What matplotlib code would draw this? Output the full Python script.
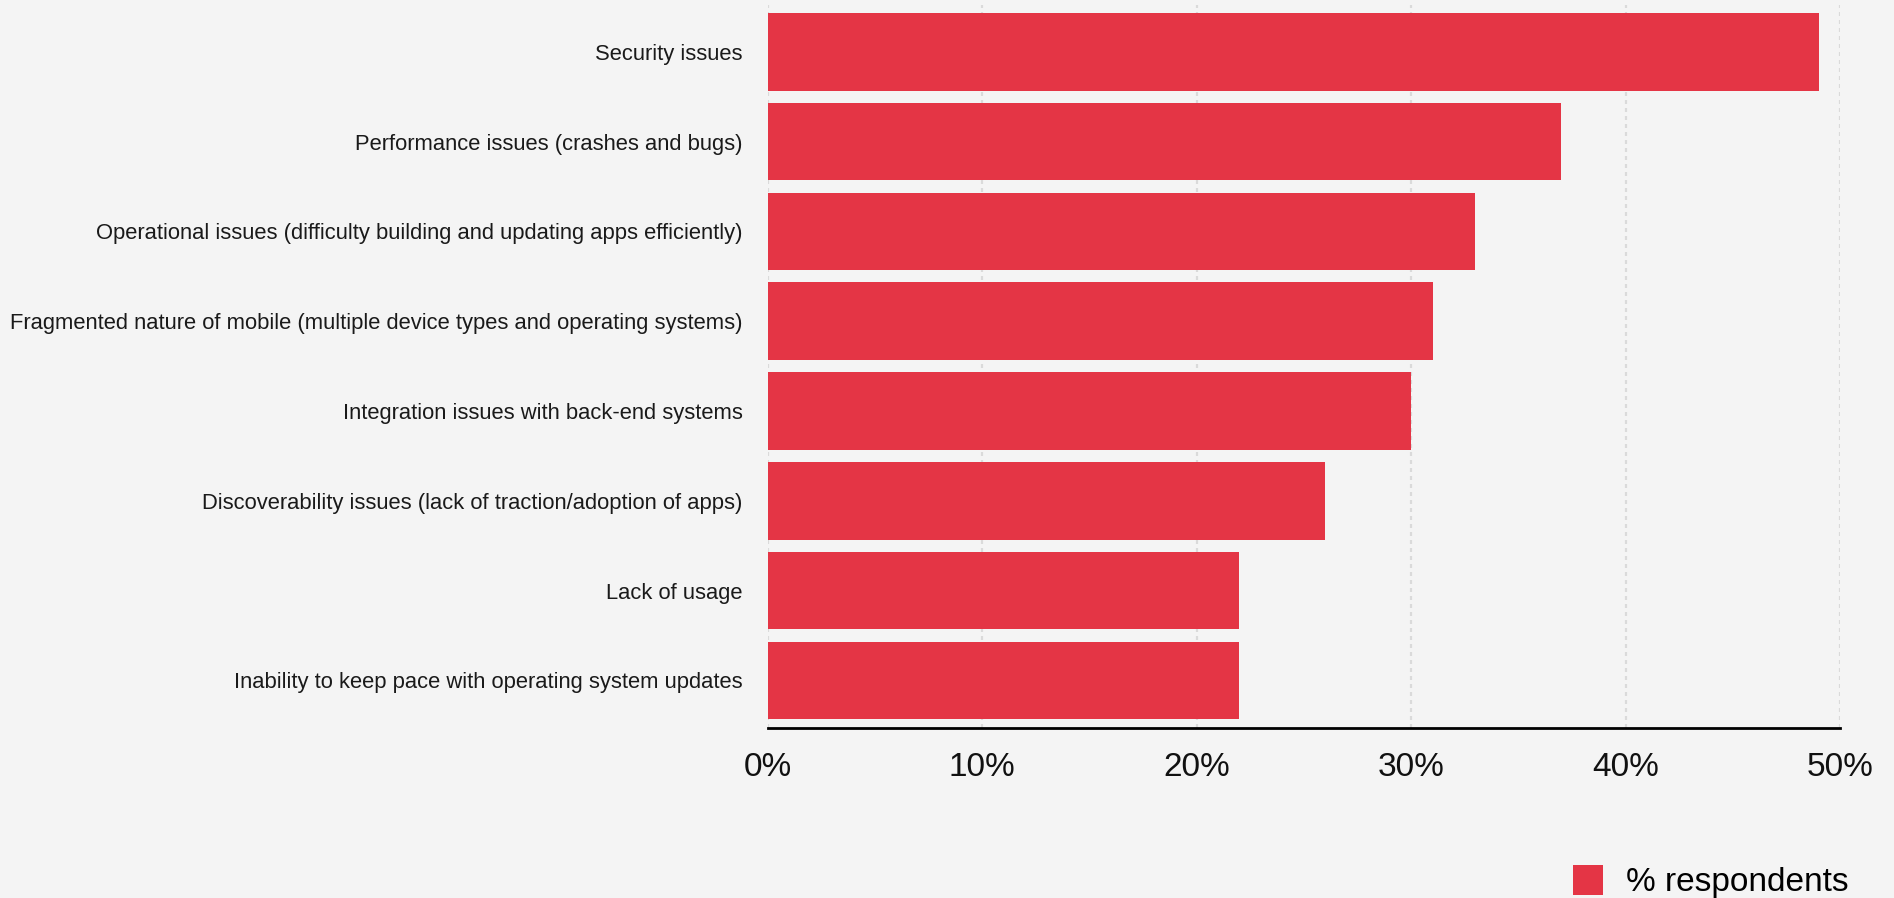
import matplotlib
matplotlib.use("Agg")
import matplotlib.pyplot as plt
from matplotlib.ticker import FuncFormatter

# data
categories = [
    "Security issues",
    "Performance issues (crashes and bugs)",
    "Operational issues (difficulty building and updating apps efficiently)",
    "Fragmented nature of mobile (multiple device types and operating systems)",
    "Integration issues with back-end systems",
    "Discoverability issues (lack of traction/adoption of apps)",
    "Lack of usage",
    "Inability to keep pace with operating system updates",
]
respondents = [49, 37, 33, 31, 30, 26, 22, 22]
xticks = [0, 10, 20, 30, 40, 50]
series_name = "% respondents"

BG = "#f4f4f4"
RED = "#e43545"

plt.rcParams['font.family'] = ['Liberation Sans', 'DejaVu Sans']

fig = plt.figure(figsize=(18.94, 8.98), dpi=100, facecolor=BG)
ax = fig.add_axes([0.4053, 0.1888, 0.9715 - 0.4053, 0.9944 - 0.1888])
ax.set_facecolor(BG)

ypos = list(range(len(categories)))
ax.barh(ypos, respondents, height=0.865, color=RED, label=series_name, zorder=3)

ax.set_ylim(7.535, -0.52)
ax.set_xlim(0, 50)
ax.set_xticks(xticks)
ax.xaxis.set_major_formatter(FuncFormatter(lambda v, p: "%d%%" % v))
ax.set_yticks(ypos)
ax.set_yticklabels(categories)

ax.tick_params(axis='y', length=0, pad=18, labelsize=15.8, labelcolor="#1a1a1a")
ax.tick_params(axis='x', length=0, pad=17, labelsize=24, labelcolor="#111111")

ax.grid(axis='x', color="#dadada", linewidth=1.6, linestyle=(0, (1.8, 1.8)), zorder=0)
ax.set_axisbelow(True)

for side in ['top', 'right', 'left']:
    ax.spines[side].set_visible(False)
ax.spines['bottom'].set_color('black')
ax.spines['bottom'].set_linewidth(2)
ax.spines['bottom'].set_zorder(4)

fig.legend(loc='upper left', bbox_to_anchor=(0.8305, 0.037), frameon=False,
           fontsize=24, handlelength=0.9, handleheight=1.0, handletextpad=0.7,
           borderpad=0, borderaxespad=0)

fig.savefig("out.png", dpi=100, facecolor=BG)
